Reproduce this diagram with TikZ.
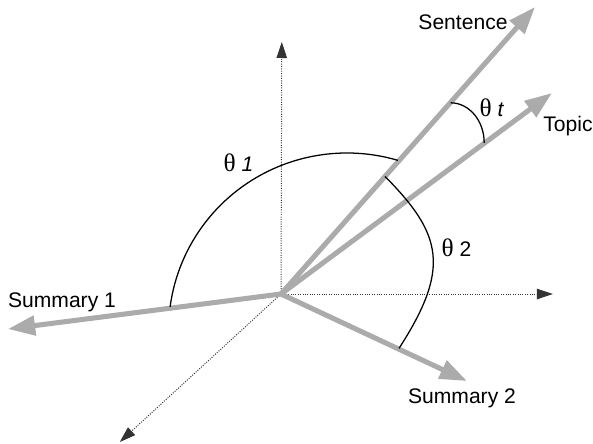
\documentclass[tikz,border=0pt]{standalone}
\usepackage{fontspec}
\setmainfont{Liberation Sans}
\newfontfamily\thetafont{Liberation Serif}
\usetikzlibrary{arrows.meta}
\newcommand{\ang}[1]{{\thetafont\fontsize{18}{18}\selectfont θ} #1}
\begin{document}
\begin{tikzpicture}[font=\fontsize{15}{18}\selectfont, line join=round,
  vec/.style={line width=3.6pt, draw=black!33, -{Triangle[length=0.68cm, width=0.48cm]}},
  axis/.style={densely dotted, line width=0.7pt, draw=black!80, -{Triangle[length=0.4cm, width=0.26cm]}},
  angarc/.style={line width=0.9pt}]
  \useasboundingbox (-7.025,-3.725) rectangle (7.8,7.35);
  % axes
  \coordinate (O) at (0,0);
  \coordinate (up) at (0.02,6.3);
  \coordinate (right) at (6.8,0);
  \coordinate (front) at (-4.03,-3.7);
  \draw[axis] (O) -- (up);
  \draw[axis] (O) -- (right);
  \draw[axis] (O) -- (front);
  % vectors
  \coordinate (sent) at (6.35,7.175);
  \coordinate (topic) at (6.775,5.025);
  \coordinate (sumA) at (-6.825,-0.875);
  \coordinate (sumB) at (4.65,-2.175);
  \draw[vec] (O) -- (sent);
  \draw[vec] (O) -- (topic);
  \draw[vec] (O) -- (sumA);
  \draw[vec] (O) -- (sumB);
  \node (sentL) at (4.55,6.8) {Sentence};
  \node (topicL) at (7.175,4.2) {Topic};
  \node (sumAL) at (-5.475,-0.2) {Summary 1};
  \node (sumBL) at (4.525,-2.6) {Summary 2};
  % angles
  \draw[angarc] (-2.772,-0.322) arc[start angle=172.5, end angle=73.4, x radius=4.46, y radius=4.425];
  \draw[angarc] (2.6,2.94) .. controls (4.025,1.5) and (4.25,0.65) .. (2.95,-1.36);
  \draw[angarc] (4.24,4.78) arc[start angle=90, end angle=0, x radius=0.84, y radius=1.0];
  \node (th1) at (-1.06,3.275) {\ang{\textit{1}}};
  \node (th2) at (4.39,1.15) {\ang{2}};
  \node (tht) at (5.275,4.65) {\ang{\textit{t}}};
\end{tikzpicture}
\end{document}
